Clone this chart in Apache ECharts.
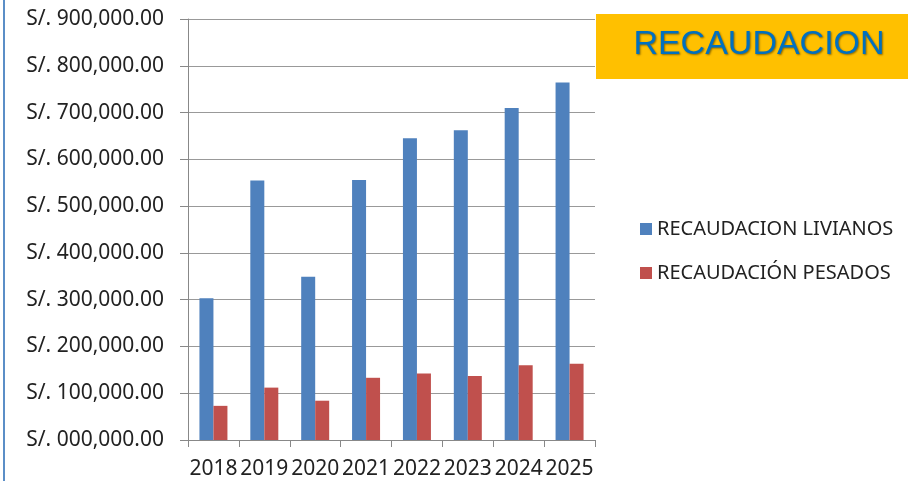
<!DOCTYPE html>
<html>
<head>
<meta charset="utf-8">
<script src="https://cdn.jsdelivr.net/npm/echarts@6/dist/echarts.min.js"></script>
<style>
  html, body { margin: 0; padding: 0; background: #fff; }
  .chart { width: 908px; height: 481px; }
</style>
</head>
<body>
<div class="chart"></div>
<script>
var years = ['2018', '2019', '2020', '2021', '2022', '2023', '2024', '2025'];
var livianos = [303000, 555000, 349000, 556000, 645000, 662000, 710000, 764000];
var pesados = [73000, 112000, 84000, 133000, 142000, 137000, 160000, 163000];
var seriesNames = ['RECAUDACION LIVIANOS', 'RECAUDACIÓN PESADOS'];

window.onload = function() {
  var myChart = echarts.init(document.querySelector('.chart'));
  var font = 'Noto Sans';

  function money(v) {
    var k = String(Math.round(v / 1000));
    while (k.length < 3) k = '0' + k;
    return 'S/. ' + k + ',000.00';
  }

  var option = {
    animation: false,
    color: ['#4f81bd', '#c0504d'],
    backgroundColor: '#fff',
    textStyle: { fontFamily: font },
    grid: { left: 188, right: 313, top: 19, bottom: 41 },
    legend: {
      orient: 'vertical',
      left: 635,
      top: 214,
      itemWidth: 12,
      itemHeight: 12,
      itemGap: 24,
      icon: 'rect',
      data: seriesNames,
      textStyle: { color: '#222', fontSize: 20, fontFamily: font }
    },
    xAxis: {
      type: 'category',
      data: years,
      axisLine: { lineStyle: { color: '#888' } },
      axisTick: { show: true, length: 7, lineStyle: { color: '#888' } },
      axisLabel: { color: '#222', fontSize: 21, margin: 19, interval: 0 }
    },
    yAxis: {
      type: 'value',
      min: 0,
      max: 900000,
      interval: 100000,
      axisLine: { show: true, lineStyle: { color: '#888' } },
      axisTick: { show: true, length: 8, lineStyle: { color: '#888' } },
      splitLine: { lineStyle: { color: '#999' } },
      axisLabel: { color: '#222', fontSize: 21, margin: 24, formatter: money }
    },
    graphic: [
      { type: 'rect', left: 3, top: 0, shape: { width: 2, height: 481 }, style: { fill: '#5b8ec7' } },
      {
        type: 'group', left: 596, top: 14,
        children: [
          { type: 'rect', shape: { width: 312, height: 65 }, style: { fill: '#ffc000' } },
          {
            type: 'text', x: 163, y: 31,
            style: {
              text: 'RECAUDACION', fill: '#0070c0', font: '34px Arial, "Liberation Sans"',
              align: 'center', verticalAlign: 'middle',
              textShadowColor: 'rgba(0,0,0,0.45)', textShadowBlur: 2,
              textShadowOffsetX: 1, textShadowOffsetY: 1
            }
          }
        ]
      }
    ],
    series: [
      {
        name: seriesNames[0], type: 'bar', data: livianos,
        barWidth: 14, barGap: '0%'
      },
      {
        name: seriesNames[1], type: 'bar', data: pesados,
        barWidth: 14, barGap: '0%'
      }
    ]
  };
  myChart.setOption(option);
};
</script>
</body>
</html>
